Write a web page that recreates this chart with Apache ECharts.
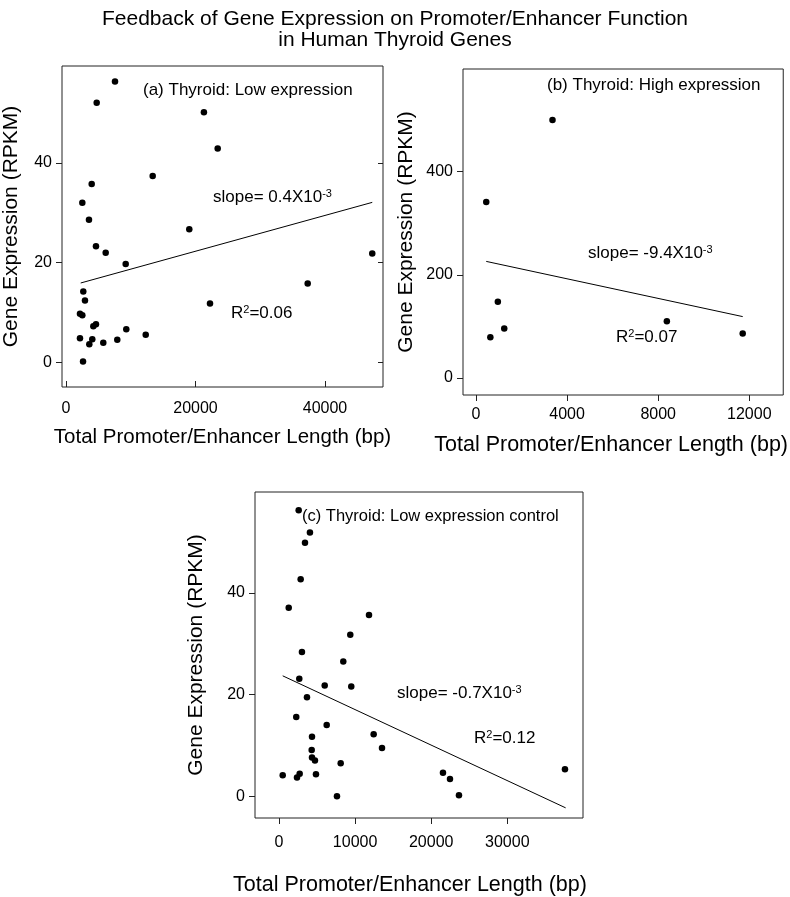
<!DOCTYPE html>
<html>
<head>
<meta charset="utf-8">
<script src="https://cdn.jsdelivr.net/npm/echarts@6/dist/echarts.min.js"></script>
<style>
  html, body { margin: 0; padding: 0; background: #fff; }
  #chart { width: 790px; height: 897px; }
</style>
</head>
<body>
<div id="chart"></div>
<script>
// (a) low expression genes
const aLength = [7570, 4740, 21300, 23430, 13390, 3970, 2520, 3550, 19040, 4630, 6130, 47300, 9220, 37330, 2670, 2930, 22240, 2160, 2520, 4220, 4630, 9310, 12310, 2160, 4060, 3600, 5760, 7920, 2630]
const aExpr = [56.4, 52.1, 50.2, 42.9, 37.4, 35.8, 32.0, 28.6, 26.7, 23.3, 22.0, 21.8, 19.7, 15.8, 14.2, 12.4, 11.8, 9.7, 9.4, 7.2, 7.6, 6.6, 5.5, 4.8, 4.6, 3.6, 3.9, 4.5, 0.1]
const aFit = [[2270, 15.9], [47300, 32.1]]

// (b) high expression genes
const bLength = [3360, 450, 960, 1240, 630, 8380, 11710]
const bExpr = [500, 341, 148, 96, 79, 110, 86]
const bFit = [[450, 226], [11710, 119]]

// (c) low expression control
const cLength = [2590, 4070, 3420, 2850, 1280, 11830, 9370, 3020, 8450, 2670, 6010, 9500, 3680, 2270, 6270, 12440, 4340, 13540, 4300, 4340, 4730, 8110, 490, 2720, 2370, 4860, 21550, 22470, 7620, 23650, 37580]
const cExpr = [56.3, 51.9, 49.9, 42.7, 37.1, 35.7, 31.8, 28.4, 26.5, 23.1, 21.8, 21.6, 19.5, 15.6, 14.0, 12.2, 11.7, 9.5, 9.1, 7.6, 7.0, 6.5, 4.1, 4.4, 3.7, 4.3, 4.6, 3.4, 0.0, 0.2, 5.3]
const cFit = [[490, 23.7], [37670, -2.3]]

// tick labels
const aXTicks = [0, 20000, 40000]
const aYTicks = [0, 20, 40]
const bXTicks = [0, 4000, 8000, 12000]
const bYTicks = [0, 200, 400]
const cXTicks = [0, 10000, 20000, 30000]
const cYTicks = [0, 20, 40]

const FONT = '"Liberation Sans", Arial, sans-serif'
const xTitle = 'Total Promoter/Enhancer Length (bp)'
const yTitle = 'Gene Expression (RPKM)'

const zip = (xs, ys) => xs.map((x, i) => [x, ys[i]])

// pad shifts the axis title sideways: [top, right, bottom, left]
const xAxisOf = (gridIndex, min, max, ticks, inside, gap, size, pad, margin) => ({
  type: 'value', gridIndex, min, max,
  name: xTitle, nameLocation: 'middle', nameGap: gap,
  nameTextStyle: { fontFamily: FONT, fontSize: size, color: '#000', padding: pad },
  axisLine: { show: false, onZero: false },
  splitLine: { show: false },
  axisTick: { show: true, inside, length: 6, customValues: ticks, lineStyle: { color: '#222' } },
  axisLabel: { customValues: ticks, formatter: v => String(v), fontFamily: FONT, fontSize: 16, color: '#000', margin },
})

const yAxisOf = (gridIndex, min, max, ticks, gap) => ({
  type: 'value', gridIndex, min, max,
  name: yTitle, nameLocation: 'middle', nameGap: gap,
  nameTextStyle: { fontFamily: FONT, fontSize: 21, color: '#000' },
  axisLine: { show: false, onZero: false },
  splitLine: { show: false },
  axisTick: { show: true, length: 6, customValues: ticks, lineStyle: { color: '#222' } },
  axisLabel: { customValues: ticks, formatter: v => String(v), fontFamily: FONT, fontSize: 16, color: '#000', margin: 10 },
})

const dots = (xi, yi, xs, ys) => ({
  type: 'scatter', xAxisIndex: xi, yAxisIndex: yi,
  symbolSize: 6.5, itemStyle: { color: '#000', opacity: 1 }, data: zip(xs, ys),
})
const fit = (xi, yi, pts) => ({
  type: 'line', xAxisIndex: xi, yAxisIndex: yi, symbol: 'none',
  lineStyle: { color: '#000', width: 1 }, data: pts,
})

const rich = { sup: { fontFamily: FONT, fontSize: 11, verticalAlign: 'top', padding: [0, 0, 6, 0] } }
const note = (x, y, text, size) => ({
  type: 'text', x, y,
  style: { text, fontFamily: FONT, fontSize: size || 17, fill: '#000', verticalAlign: 'middle', rich },
})

const option = {
  animation: false,
  title: {
    text: 'Feedback of Gene Expression on Promoter/Enhancer Function\nin Human Thyroid Genes',
    left: 'center', top: 4,
    textStyle: { fontFamily: FONT, fontSize: 21, fontWeight: 'normal', color: '#000', lineHeight: 21 },
  },
  grid: [
    { left: 62, top: 66, width: 321, height: 321, show: true, borderColor: '#222', borderWidth: 1 },
    { left: 463, top: 69, width: 321, height: 326, show: true, borderColor: '#222', borderWidth: 1 },
    { left: 255, top: 492, width: 328, height: 329, show: true, borderColor: '#222', borderWidth: 1 },
  ],
  xAxis: [
    xAxisOf(0, -618, 48960, aXTicks, true, 40, 20.5, 0, 14),
    xAxisOf(1, -570, 13490, bXTicks, false, 39, 21.5, [0, 24, 0, 0], 12),
    xAxisOf(2, -3150, 39950, cXTicks, false, 56, 21.5, [0, 18, 0, 0], 17),
  ],
  yAxis: [
    yAxisOf(0, -5, 59.5, aYTicks, 40),
    yAxisOf(1, -33, 599, bYTicks, 46),
    yAxisOf(2, -4.3, 59.9, cYTicks, 48),
    // mirrored ticks on the right edge of (a)
    { type: 'value', gridIndex: 0, position: 'right', min: -5, max: 59.5,
      axisLine: { show: false, onZero: false }, splitLine: { show: false }, axisLabel: { show: false },
      axisTick: { show: true, inside: true, length: 5, customValues: aYTicks, lineStyle: { color: '#222' } } },
  ],
  series: [
    dots(0, 0, aLength, aExpr), fit(0, 0, aFit),
    dots(1, 1, bLength, bExpr), fit(1, 1, bFit),
    dots(2, 2, cLength, cExpr), fit(2, 2, cFit),
  ],
  graphic: [
    note(143, 90, '(a) Thyroid: Low expression'),
    note(213, 197, 'slope= 0.4X10{sup|-3}'),
    note(231, 313, 'R{sup|2}=0.06'),
    note(547, 85, '(b) Thyroid: High expression'),
    note(588, 253, 'slope= -9.4X10{sup|-3}'),
    note(616, 337, 'R{sup|2}=0.07'),
    note(302, 516, '(c) Thyroid: Low expression control', 16.5),
    note(397, 693, 'slope= -0.7X10{sup|-3}'),
    note(474, 738, 'R{sup|2}=0.12'),
  ],
}

const myChart = echarts.init(document.getElementById('chart'))
myChart.setOption(option)
</script>
</body>
</html>
